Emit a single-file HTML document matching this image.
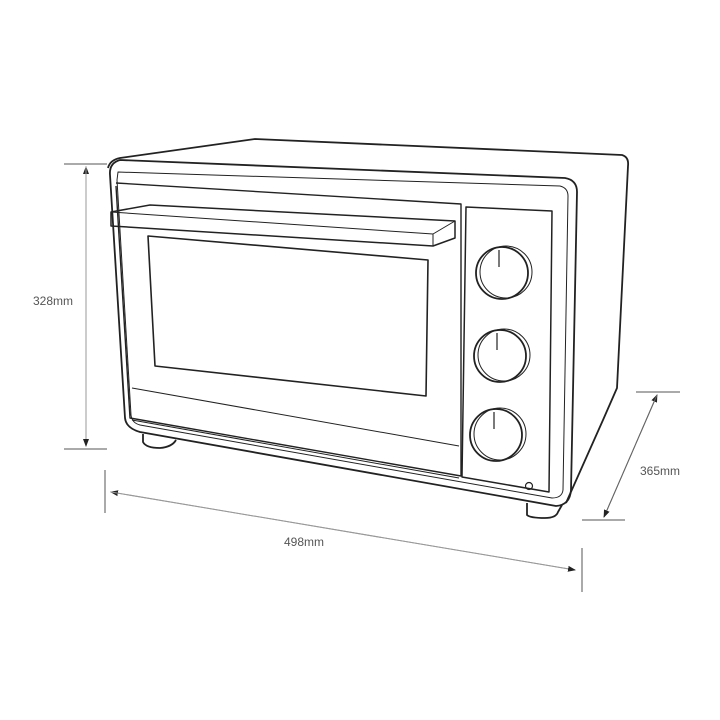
<!DOCTYPE html>
<html><head><meta charset="utf-8"><style>html,body{margin:0;padding:0;background:#fff}svg{display:block}</style></head>
<body>
<svg width="720" height="720" viewBox="0 0 720 720" xmlns="http://www.w3.org/2000/svg">
<defs>
<marker id="ar" markerWidth="8" markerHeight="8" refX="7" refY="4" orient="auto" markerUnits="userSpaceOnUse">
<path d="M0,1 L8,4 L0,7 z" fill="#222"/></marker>
</defs>
<g fill="none" stroke="#222" stroke-width="1.8" stroke-linejoin="round">
<!-- body outline -->
<path d="M108,168 Q110,160 120,158 L255,139 L622,155 Q629,157 628,166 L617,388 L603,420 L566,503"/>
<!-- front face outer -->
<path d="M120,160 L565,178 Q577,180 577,192 L571,490 Q570,505 556,506 L140,432 Q126,428 125,418 L110,175 Q109,163 120,160 Z"/>
<path d="M118,172 L560,186 Q568,188 568,196 L563,490 Q562,498 552,498 L140,425 Q132,423 131,415 L117,180 Z" stroke-width="1"/>
<!-- door -->
<path d="M116,183 L461,204 L461,476 L130,418 L116,186" stroke-width="1.4"/>
<path d="M132,388 L459,446" stroke-width="1"/>
<path d="M132,420 L459,478" stroke-width="1"/>
<!-- handle -->
<path d="M111,212 L150,205 L455,221 L455,238 L433,246 L111,226 Z" stroke-width="1.5"/>
<path d="M433,234 L433,246 M111,212 L433,234 L455,221" stroke-width="1"/>
<!-- window -->
<path d="M148,236 L428,260 L426,396 L155,366 Z" stroke-width="1.6"/>
<!-- control panel -->
<path d="M466,207 L552,211 L549,492 L462,477 Z" stroke-width="1.5"/>
<!-- knobs -->
<circle cx="502" cy="273" r="26"/><circle cx="506" cy="272" r="26" stroke-width="1"/>
<line x1="499" y1="250" x2="499" y2="267" stroke-width="1.2"/>
<circle cx="500" cy="356" r="26"/><circle cx="504" cy="355" r="26" stroke-width="1"/>
<line x1="497" y1="333" x2="497" y2="350" stroke-width="1.2"/>
<circle cx="496" cy="435" r="26"/><circle cx="500" cy="434" r="26" stroke-width="1"/>
<line x1="494" y1="412" x2="494" y2="429" stroke-width="1.2"/>
<circle cx="529" cy="486" r="3.5" stroke-width="1.2"/>
<!-- feet -->
<path d="M143,434 L143,442 Q146,448 160,448 Q172,447 176,440"/>
<path d="M527,503 L527,515 Q530,518 545,518 Q556,518 558,512 L562,505"/>
</g>
<!-- dimensions -->
<g stroke="#555" stroke-width="1" fill="none">
<line x1="64" y1="164" x2="107" y2="164"/><line x1="64" y1="449" x2="107" y2="449"/>
<line x1="86" y1="446" x2="86" y2="167" stroke="#999" marker-end="url(#ar)"/>
<line x1="86" y1="167" x2="86" y2="446" stroke="#999" marker-end="url(#ar)"/>
<line x1="105" y1="470" x2="105" y2="513"/><line x1="582" y1="548" x2="582" y2="592"/>
<line x1="575" y1="570" x2="111" y2="492" stroke="#999" marker-end="url(#ar)"/>
<line x1="111" y1="492" x2="575" y2="570" stroke="#999" marker-end="url(#ar)"/>
<line x1="636" y1="392" x2="680" y2="392"/><line x1="582" y1="520" x2="625" y2="520"/>
<line x1="604" y1="517" x2="657" y2="395" stroke="#666" marker-end="url(#ar)"/>
<line x1="657" y1="395" x2="604" y2="517" stroke="#666" marker-end="url(#ar)"/>
</g>
<g font-family="Liberation Sans, sans-serif" font-size="12" fill="#555">
<text x="33" y="305">328mm</text>
<text x="284" y="546">498mm</text>
<text x="640" y="475">365mm</text>
</g>
</svg>
</body></html>
